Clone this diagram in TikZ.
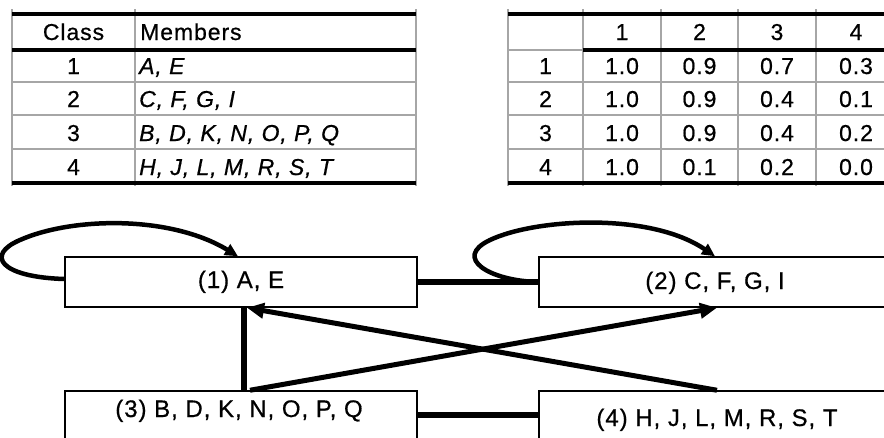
\documentclass[tikz,border=0pt]{standalone}
\usepackage{fontspec}
\setmainfont{Liberation Sans}
\newfontfamily\wfont[LetterSpace=4,FakeBold=0.6]{Liberation Sans}
\usetikzlibrary{arrows.meta}

\begin{document}
\begin{tikzpicture}[x=1pt,y=-1pt,
  cell/.style={inner sep=0pt, anchor=base, font=\wfont\fontsize{23}{27}\selectfont},
  lbl/.style={inner sep=0pt, anchor=base, font=\wfont\fontsize{24}{28}\selectfont},
  rulethick/.style={line width=3.5pt, black},
  rulethin/.style={line width=1.2pt, black!35},
  box/.style={draw, rectangle, line width=1.5pt, minimum width=352pt, inner sep=0pt},
  edge/.style={line width=6.5pt},
  arr/.style={line width=5pt, -{Triangle[length=17pt,width=15pt]}},
  selfloop/.style={line width=4.5pt, -{Triangle[length=13pt,width=12pt]}}]

\clip (0,0) rectangle (884,437);
\fill[white] (0,0) rectangle (884,437);

% ---- class membership table ----
\foreach \yy in {82,115,149} \draw[rulethin] (12,\yy) -- (416,\yy);
\foreach \xx in {12,135,416} \draw[rulethin] (\xx,9) -- (\xx,186);
\draw[rulethick] (12,14) -- (416,14);
\draw[rulethick] (12,50) -- (416,50);
\draw[rulethick, line width=4pt] (12,183) -- (416,183);

\node[cell] (hcls) at (73.5,40) {Class};
\node[cell, anchor=base west] (hmem) at (140,40) {Members};
\foreach \yy/\c/\m [count=\i] in {74/1/{A, E}, 107/2/{C, F, G, I}, 141/3/{B, D, K, N, O, P, Q}, 175/4/{H, J, L, M, R, S, T}} {
  \node[cell] (cls\i) at (73.5,\yy) {\c};
  \node[cell, anchor=base west] (mem\i) at (139,\yy) {\itshape \m};
}

% ---- transition table ----
\draw[rulethin] (508,50) -- (583,50);
\foreach \yy in {82,115,149} \draw[rulethin] (508,\yy) -- (884,\yy);
\foreach \xx in {508,583,661,738,816} \draw[rulethin] (\xx,9) -- (\xx,186);
\draw[rulethick] (508,14) -- (884,14);
\draw[rulethick] (583,50) -- (884,50);
\draw[rulethick, line width=4pt] (508,183) -- (884,183);

\foreach \xx/\h in {622/1, 699.5/2, 777/3, 856/4}
  \node[cell] (col\h) at (\xx,40) {\h};
\foreach \yy/\r/\a/\b/\c/\d in {74/1/1.0/0.9/0.7/0.3, 107/2/1.0/0.9/0.4/0.1, 141/3/1.0/0.9/0.4/0.2, 175/4/1.0/0.1/0.2/0.0} {
  \node[cell] (row\r) at (545.5,\yy) {\r};
  \node[cell] (v\r a) at (622,\yy) {\a};
  \node[cell] (v\r b) at (699.5,\yy) {\b};
  \node[cell] (v\r c) at (777,\yy) {\c};
  \node[cell] (v\r d) at (856,\yy) {\d};
}

% ---- class graph ----
\node[box, minimum height=50pt] (b1) at (241,282) {};
\node[box, minimum height=50pt] (b2) at (715,282) {};
\node[box, minimum height=48pt] (b3) at (241,415) {};
\node[box, minimum height=48pt] (b4) at (715,415) {};

\node[lbl] (t1) at (241,288) {(1) A, E};
\node[lbl] (t2) at (715,289) {(2) C, F, G, I};
\node[lbl] (t3) at (239,417) {(3) B, D, K, N, O, P, Q};
\node[lbl] (t4) at (717,426) {(4) H, J, L, M, R, S, T};

\draw[edge] (b1.east) -- (b2.west);
\draw[edge] (b3.east) -- (b4.west);
\draw[edge] ([xshift=3pt]b1.south) -- ([xshift=3pt]b3.north);

\draw[arr] ([xshift=9pt]b3.north) -- ([xshift=2pt]b2.south);
\draw[arr] ([xshift=2pt]b4.north) -- ([xshift=6pt]b1.south);

\draw[selfloop] ([yshift=3pt]b1.west) .. controls (0,277) and (-15,255) .. (20,240)
  .. controls (72,217) and (170,215) .. ([xshift=-3pt]b1.north);
\draw[selfloop] (b2.west) .. controls (490,281) and (452,258) .. (490,240)
  .. controls (535.6,218.4) and (650,212) .. (b2.north);

\end{tikzpicture}
\end{document}
